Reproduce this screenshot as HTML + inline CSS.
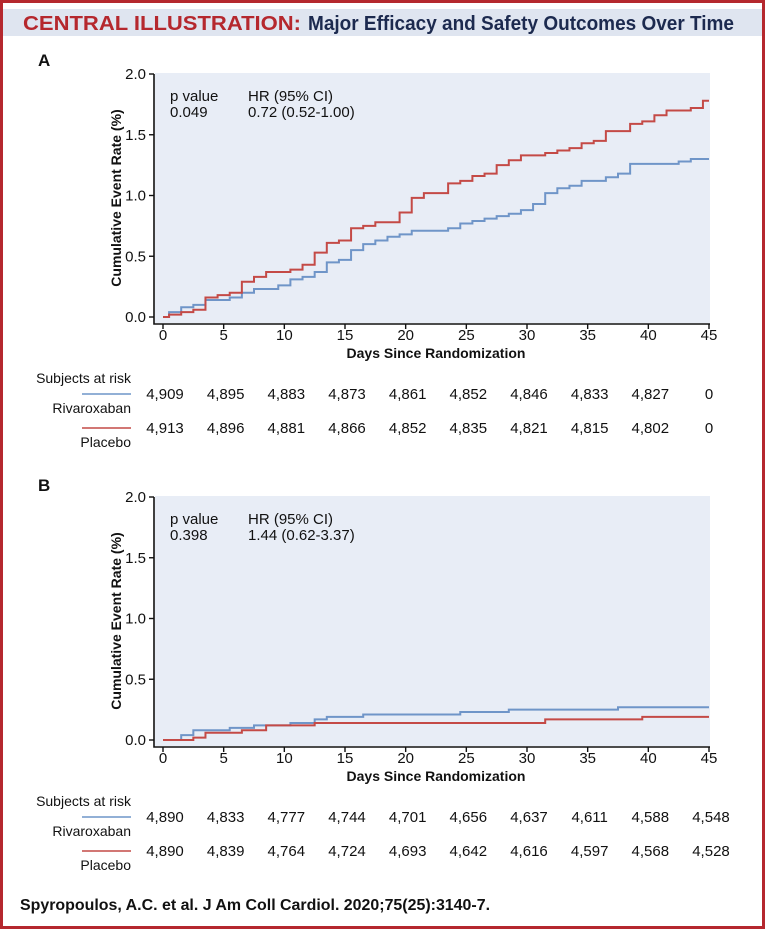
<!DOCTYPE html>
<html><head><meta charset="utf-8"><style>
body{margin:0;background:#fff;}
svg{display:block;font-family:"Liberation Sans",sans-serif;}
</style></head><body>
<svg id="s" width="765" height="929" viewBox="0 0 765 929">
<rect x="1.5" y="1.5" width="762" height="926" fill="#fff" stroke="#b5282e" stroke-width="3"/>
<rect x="3" y="9" width="759" height="27" fill="#dfe5f0"/>
<text x="23" y="30" font-size="20" font-weight="bold" fill="#b5282e" textLength="278" lengthAdjust="spacingAndGlyphs">CENTRAL ILLUSTRATION:</text>
<text x="308" y="30" font-size="20" font-weight="bold" fill="#1c2a4f" textLength="426" lengthAdjust="spacingAndGlyphs">Major Efficacy and Safety Outcomes Over Time</text>
<text x="38" y="66" font-size="17" font-weight="bold" fill="#111">A</text>
<text x="38" y="491" font-size="17" font-weight="bold" fill="#111">B</text>
<text x="20" y="910" font-size="16" font-weight="bold" fill="#111" textLength="470" lengthAdjust="spacingAndGlyphs">Spyropoulos, A.C. et al. J Am Coll Cardiol. 2020;75(25):3140-7.</text>
<g id="ga"></g><g id="gb"></g>
</svg>
<script>
const yTicks=[0,0.5,1.0,1.5,2.0];
const xTicks=[0,5,10,15,20,25,30,35,40,45];
// Panel A
const aRivaDays=[0,0.5,1.5,2.5,3.5,5.5,6.5,7.5,9.5,10.5,11.5,12.5,13.5,14.5,15.5,16.5,17.5,18.5,19.5,20.5,23.5,24.5,25.5,26.5,27.5,28.5,29.5,30.5,31.5,32.5,33.5,34.5,36.5,37.5,38.5,42.5,43.5,45];
const aRivaVals=[0,0.04,0.08,0.10,0.14,0.16,0.20,0.23,0.26,0.31,0.33,0.37,0.45,0.47,0.55,0.60,0.63,0.66,0.68,0.71,0.73,0.77,0.79,0.81,0.83,0.85,0.88,0.93,1.02,1.06,1.08,1.12,1.15,1.18,1.26,1.28,1.30,1.30];
const aPlacDays=[0,0.5,1.5,2.5,3.5,4.5,5.5,6.5,7.5,8.5,10.5,11.5,12.5,13.5,14.5,15.5,16.5,17.5,19.5,20.5,21.5,23.5,24.5,25.5,26.5,27.5,28.5,29.5,31.5,32.5,33.5,34.5,35.5,36.5,38.5,39.5,40.5,41.5,43.5,44.5,45];
const aPlacVals=[0,0.02,0.04,0.06,0.16,0.18,0.20,0.29,0.33,0.37,0.39,0.43,0.53,0.61,0.63,0.73,0.75,0.78,0.86,0.98,1.02,1.10,1.12,1.16,1.18,1.25,1.29,1.33,1.35,1.37,1.39,1.43,1.45,1.53,1.59,1.61,1.66,1.70,1.72,1.78,1.78];
const aRivaRisk=["4,909","4,895","4,883","4,873","4,861","4,852","4,846","4,833","4,827","0"];
const aPlacRisk=["4,913","4,896","4,881","4,866","4,852","4,835","4,821","4,815","4,802","0"];
// Panel B
const bRivaDays=[0,1.5,2.5,5.5,7.5,10.5,12.5,13.5,16.5,24.5,28.5,37.5,45];
const bRivaVals=[0,0.04,0.08,0.10,0.12,0.14,0.17,0.19,0.21,0.23,0.25,0.27,0.27];
const bPlacDays=[0,2.5,3.5,6.5,8.5,12.5,31.5,39.5,45];
const bPlacVals=[0,0.02,0.06,0.08,0.12,0.14,0.17,0.19,0.19];
const bRivaRisk=["4,890","4,833","4,777","4,744","4,701","4,656","4,637","4,611","4,588","4,548"];
const bPlacRisk=["4,890","4,839","4,764","4,724","4,693","4,642","4,616","4,597","4,568","4,528"];

const NS="http://www.w3.org/2000/svg";
function mk(p,tag,at,txt){const e=document.createElementNS(NS,tag);for(const k in at)e.setAttribute(k,at[k]);if(txt!==undefined)e.textContent=txt;p.appendChild(e);return e;}

function panel(g,top,p,hr,riva,plac,rRisk,pRisk,name){
  const x0=163,x1=709,y0=top+243,y2=top;
  const X=d=>x0+(x1-x0)*d/45, Y=v=>y0-(y0-y2)*v/2;
  const bg=mk(g,'rect',{x:155,y:top-1,width:555,height:y0-top+7,fill:'#e8edf6'});
  
  
  const ax=mk(g,'path',{d:`M154 ${top} V${y0+7} H710`,stroke:'#111','stroke-width':1.6,fill:'none'});
  
  
  yTicks.forEach(v=>{
    mk(g,'line',{x1:149,x2:154,y1:Y(v),y2:Y(v),stroke:'#111','stroke-width':1.4});
    const t=mk(g,'text',{x:146,y:Y(v)+5,'text-anchor':'end','font-size':15,fill:'#111'},v.toFixed(1));
    
    
  });
  xTicks.forEach(d=>{
    mk(g,'line',{x1:X(d),x2:X(d),y1:y0+7,y2:y0+12,stroke:'#111','stroke-width':1.4});
    const t=mk(g,'text',{x:X(d),y:y0+23,'text-anchor':'middle','font-size':15,fill:'#111'},String(d));
    
    
  });
  const xt=mk(g,'text',{x:436,y:y0+41,'text-anchor':'middle','font-size':14,'font-weight':'bold',fill:'#111'},'Days Since Randomization');
  
  
  const yt=mk(g,'text',{x:0,y:0,'text-anchor':'middle','font-size':14,'font-weight':'bold',fill:'#111',transform:`translate(121 ${top+124}) rotate(-90)`},'Cumulative Event Rate (%)');
  
  
  const s1=mk(g,'text',{x:170,y:top+27,'font-size':15,fill:'#111'},'p value');
  
  
  const s2=mk(g,'text',{x:170,y:top+43,'font-size':15,fill:'#111'},p);
  
  
  const s3=mk(g,'text',{x:248,y:top+27,'font-size':15,fill:'#111','xml:space':'preserve'},'HR   (95% CI)');
  
  
  const s4=mk(g,'text',{x:248,y:top+43,'font-size':15,fill:'#111'},hr);
  
  
  [[riva,'#6f95c8','rivaroxaban'],[plac,'#c44a46','placebo']].forEach(([s,c,n])=>{
    let d=`M${X(s[0][0])} ${Y(s[1][0])}`;
    for(let i=1;i<s[0].length;i++){d+=` H${X(s[0][i])} V${Y(s[1][i])}`;}
    const l=mk(g,'path',{d:d,stroke:c,'stroke-width':2,fill:'none'});
    
    
  });
  const rb=y0+66;
  const sr=mk(g,'text',{x:131,y:rb,'text-anchor':'end','font-size':14,fill:'#111'},'Subjects at risk');
  
  
  [[rRisk,'#6f95c8','Rivaroxaban',rb+16],[pRisk,'#c44a46','Placebo',rb+50]].forEach(([arr,c,lab,yy])=>{
    mk(g,'line',{x1:82,x2:131,y1:yy-5,y2:yy-5,stroke:c,'stroke-width':1.6});
    const lt=mk(g,'text',{x:131,y:yy+14,'text-anchor':'end','font-size':14,fill:'#111'},lab);
    
    
    arr.forEach((v,i)=>{
      const t=mk(g,'text',{x:X(xTicks[i])+(i===9&&v==='0'?0:2),y:yy,'text-anchor':'middle','font-size':15,fill:'#111'},v);
      
      
    });
  });
}
panel(document.getElementById('ga'),74,'0.049','0.72 (0.52-1.00)',[aRivaDays,aRivaVals],[aPlacDays,aPlacVals],aRivaRisk,aPlacRisk,'panel-a');
panel(document.getElementById('gb'),497,'0.398','1.44 (0.62-3.37)',[bRivaDays,bRivaVals],[bPlacDays,bPlacVals],bRivaRisk,bPlacRisk,'panel-b');
</script>
</body></html>
